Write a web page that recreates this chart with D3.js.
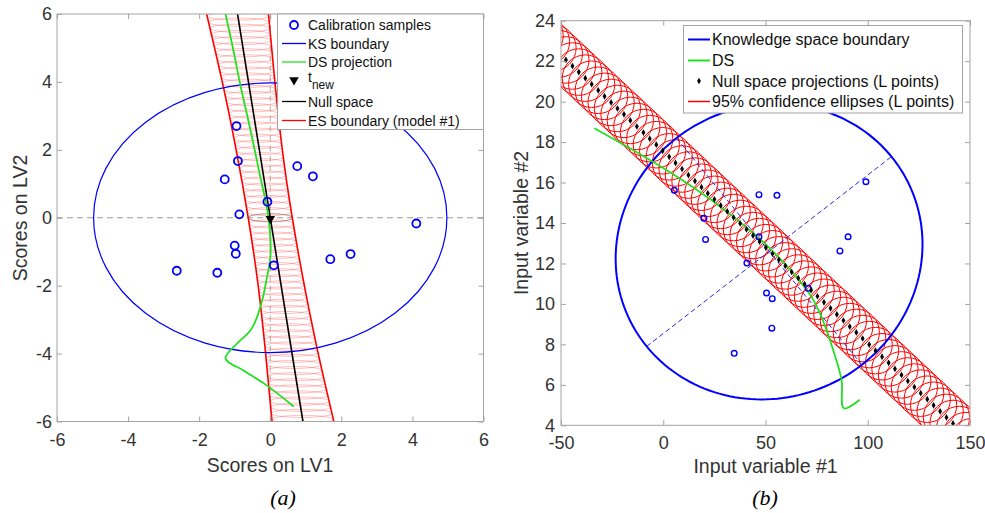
<!DOCTYPE html>
<html><head><meta charset="utf-8">
<script src="https://cdn.jsdelivr.net/npm/d3@7"></script>
<style>
body{margin:0;background:#fff}
svg{display:block}
text{font-family:"Liberation Sans",Arial,sans-serif}
</style>
</head><body>
<svg id="c" width="985" height="513"></svg>
<script>
// ---------------- Panel (a) data ----------------
const aTicks = [-6, -4, -2, 0, 2, 4, 6];
const calX = [-0.95, -0.91, -1.28, 0.76, 1.20, -0.08, -0.87, 4.11, -1.00, -0.97, -2.63, -1.49, 0.10, 1.69, 2.26];
const calY = [2.70, 1.67, 1.13, 1.52, 1.22, 0.47, 0.10, -0.17, -0.82, -1.06, -1.56, -1.62, -1.40, -1.22, -1.07];
const ksA = {cx: 0, cy: 0, rx: 4.97, ry: 3.97};
const dsAX = [-1.26, -1.05, -0.86, -0.56, -0.30, -0.05, 0.00, -0.10, -0.23, -0.56, -0.94, -1.26, -0.75, -0.19, 0.66];
const dsAY = [6.00, 5.00, 4.00, 2.60, 1.30, 0.00, -1.20, -1.80, -2.44, -3.32, -3.71, -4.13, -4.50, -4.87, -5.56];
const tNew = [0, 0];
const nullAX = [-0.92, 0.92];
const nullAY = [6, -6];
const esBoundY = [6, 4, 2, 0, -2, -4, -6];
const esBoundLeft = [-1.79, -1.35, -0.96, -0.62, -0.34, -0.13, 0.05];
const esBoundRight = [-0.05, 0.13, 0.34, 0.62, 0.96, 1.35, 1.79];
const esEllY = [6.30, 6.12, 5.94, 5.76, 5.58, 5.40, 5.22, 5.04, 4.86, 4.68, 4.50, 4.32, 4.14, 3.96, 3.78, 3.60, 3.42, 3.24, 3.06, 2.88, 2.70, 2.52, 2.34, 2.16, 1.98, 1.80, 1.62, 1.44, 1.26, 1.08, 0.90, 0.72, 0.54, 0.36, 0.18, 0.00,
  -0.18, -0.36, -0.54, -0.72, -0.90, -1.08, -1.26, -1.44, -1.62, -1.80, -1.98, -2.16, -2.34, -2.52, -2.70, -2.88, -3.06, -3.24, -3.42, -3.60, -3.78, -3.96, -4.14, -4.32, -4.50, -4.68, -4.86, -5.04, -5.22, -5.40, -5.58, -5.76, -5.94, -6.12, -6.30];

// ---------------- Panel (b) data ----------------
const bXTicks = [-50, 0, 50, 100, 150];
const bYTicks = [4, 6, 8, 10, 12, 14, 16, 18, 20, 22, 24];
const sampX = [5.4, 46.8, 55.6, 99.1, 19.9, 20.7, 46.8, 90.4, 86.4, 40.9, 50.5, 53.3, 53.1, 34.7, 70.9];
const sampY = [15.62, 15.40, 15.37, 16.04, 14.23, 13.19, 13.32, 13.32, 12.62, 12.02, 10.54, 10.26, 8.80, 7.56, 10.77];
const ksAxis1 = [[-8.1, 7.9], [111.6, 17.28]];
const ksAxis2 = [[6.5, 18.2], [97.0, 7.0]];
const dsBX = [-33.7, -6.5, 15.5, 31.8, 51.3, 71.5, 76.6, 83.1, 87.2, 88.3, 96.1];
const dsBY = [18.68, 17.11, 15.70, 14.50, 12.83, 10.50, 9.54, 7.72, 6.24, 4.84, 5.26];
const nsX = [-63.4, -60.2, -57.1, -53.9, -50.8, -47.6, -44.4, -41.3, -38.1, -35.0, -31.8, -28.7, -25.5, -22.4, -19.2, -16.1, -12.9, -9.7, -6.6, -3.4,
  -0.3, 2.9, 6.0, 9.2, 12.3, 15.5, 18.7, 21.8, 25.0, 28.1, 31.3, 34.4, 37.6, 40.7, 43.9, 47.1, 50.2, 53.4, 56.5, 59.7,
  62.8, 66.0, 69.1, 72.3, 75.4, 78.6, 81.8, 84.9, 88.1, 91.2, 94.4, 97.5, 100.7, 103.8, 107.0, 110.2, 113.3, 116.5, 119.6, 122.8,
  125.9, 129.1, 132.2, 135.4, 138.5, 141.7, 144.8, 148.0, 151.2, 154.3];
const nsY = [23.56, 23.26, 22.96, 22.66, 22.36, 22.06, 21.76, 21.46, 21.16, 20.86, 20.56, 20.26, 19.96, 19.66, 19.37, 19.07, 18.77, 18.47, 18.17, 17.87,
  17.57, 17.27, 16.97, 16.67, 16.37, 16.07, 15.77, 15.47, 15.17, 14.87, 14.57, 14.27, 13.98, 13.68, 13.38, 13.08, 12.78, 12.48, 12.18, 11.88,
  11.58, 11.28, 10.98, 10.68, 10.38, 10.08, 9.78, 9.48, 9.18, 8.88, 8.59, 8.29, 7.99, 7.69, 7.39, 7.09, 6.79, 6.49, 6.19, 5.89,
  5.59, 5.29, 4.99, 4.69, 4.39, 4.09, 3.79, 3.49, 3.19, 2.89];
const confRx = 11.3, confRy = 1.15;

// ---------------- drawing helpers ----------------
const svg = d3.select("#c");
const AXC = "#a3a3a3", TXC = "#333";
const BLUE = "#0000ff", GREEN = "#22e022", RED = "#ff0000";

function frame(x, y, xt, yt, padX, padY) {
  const [x0, x1] = x.range(), [y0, y1] = y.range();
  const fmt = d => String(d);
  const g = svg.append("g");
  g.append("g").attr("transform", `translate(0,${y0})`)
    .call(d3.axisBottom(x).tickValues(xt).tickSizeInner(-5).tickSizeOuter(0).tickPadding(padX).tickFormat(fmt));
  g.append("g").attr("transform", `translate(0,${y1})`)
    .call(d3.axisTop(x).tickValues(xt).tickSizeInner(-5).tickSizeOuter(0).tickFormat(""));
  g.append("g").attr("transform", `translate(${x0},0)`)
    .call(d3.axisLeft(y).tickValues(yt).tickSizeInner(-5).tickSizeOuter(0).tickPadding(padY).tickFormat(fmt));
  g.append("g").attr("transform", `translate(${x1},0)`)
    .call(d3.axisRight(y).tickValues(yt).tickSizeInner(-5).tickSizeOuter(0).tickFormat(""));
  g.selectAll(".domain").remove();
  g.selectAll(".tick line").attr("stroke", AXC);
  g.selectAll(".tick text").attr("fill", TXC).style("font-size", "18px")
    .style("font-family", "'Liberation Sans',Arial,sans-serif");
  g.append("rect").attr("x", x0).attr("y", y1).attr("width", x1 - x0).attr("height", y0 - y1)
    .attr("fill", "none").attr("stroke", AXC).attr("stroke-width", 1);
}

function clipped(id, x, y) {
  const [x0, x1] = x.range(), [y0, y1] = y.range();
  svg.append("clipPath").attr("id", id).append("rect")
    .attr("x", x0).attr("y", y1).attr("width", x1 - x0).attr("height", y0 - y1);
  return svg.append("g").attr("clip-path", `url(#${id})`);
}

// ================= Panel (a) =================
const xa = d3.scaleLinear().domain([-6, 6]).range([57, 483.5]);
const ya = d3.scaleLinear().domain([-6, 6]).range([421.5, 14]);
const ga = clipped("clipA", xa, ya);

// grey dashed zero lines
ga.append("line").attr("x1", xa(-6)).attr("x2", xa(6)).attr("y1", ya(0)).attr("y2", ya(0))
  .attr("stroke", "#9a9a9a").attr("stroke-dasharray", "6,4").attr("stroke-width", 1);
ga.append("line").attr("x1", xa(0)).attr("x2", xa(0)).attr("y1", ya(-6)).attr("y2", ya(6))
  .attr("stroke", "#b0b0b0").attr("stroke-dasharray", "6,4").attr("stroke-width", 1);

// ES hatch ellipses
const leftAt = d3.scaleLinear().domain(esBoundY).range(esBoundLeft).clamp(false);
const rightAt = d3.scaleLinear().domain(esBoundY).range(esBoundRight).clamp(false);
const nullAt = d3.scaleLinear().domain(nullAY).range(nullAX);
ga.append("g").selectAll("ellipse").data(esEllY).join("ellipse")
  .attr("cx", d => xa(nullAt(d)))
  .attr("cy", d => ya(d))
  .attr("rx", d => xa((rightAt(d) - leftAt(d)) / 2) - xa(0))
  .attr("ry", ya(0) - ya(0.12))
  .attr("fill", "none").attr("stroke", "#ff5a5a").attr("stroke-opacity", 0.55).attr("stroke-width", 0.7);
// small ellipse at t_new
ga.append("ellipse").attr("cx", xa(tNew[0])).attr("cy", ya(tNew[1]))
  .attr("rx", xa((rightAt(0) - leftAt(0)) / 2) - xa(0)).attr("ry", ya(0) - ya(0.12))
  .attr("fill", "none").attr("stroke", "#555").attr("stroke-opacity", 0.6).attr("stroke-width", 0.7);

// ES boundaries
const esLineL = d3.line().x(d => xa(d[0])).y(d => ya(d[1])).curve(d3.curveNatural);
ga.append("path").attr("d", esLineL(esBoundY.map((v, i) => [esBoundLeft[i], v])))
  .attr("fill", "none").attr("stroke", RED).attr("stroke-width", 1.6);
ga.append("path").attr("d", esLineL(esBoundY.map((v, i) => [esBoundRight[i], v])))
  .attr("fill", "none").attr("stroke", RED).attr("stroke-width", 1.6);

// KS boundary ellipse
ga.append("ellipse").attr("cx", xa(ksA.cx)).attr("cy", ya(ksA.cy))
  .attr("rx", xa(ksA.rx) - xa(0)).attr("ry", ya(0) - ya(ksA.ry))
  .attr("fill", "none").attr("stroke", BLUE).attr("stroke-width", 1.2);

// null space
ga.append("line").attr("x1", xa(nullAX[0])).attr("y1", ya(nullAY[0]))
  .attr("x2", xa(nullAX[1])).attr("y2", ya(nullAY[1]))
  .attr("stroke", "#000").attr("stroke-width", 1.6);

// DS projection
ga.append("path").attr("d", d3.line().x(d => xa(d[0])).y(d => ya(d[1])).curve(d3.curveCatmullRom.alpha(1))(dsAX.map((v, i) => [v, dsAY[i]])))
  .attr("fill", "none").attr("stroke", GREEN).attr("stroke-width", 1.8);

// calibration samples
ga.append("g").selectAll("circle").data(calX.map((v, i) => [v, calY[i]])).join("circle")
  .attr("cx", d => xa(d[0])).attr("cy", d => ya(d[1])).attr("r", 4)
  .attr("fill", "none").attr("stroke", BLUE).attr("stroke-width", 1.8);

// t_new
ga.append("path").attr("d", d3.symbol(d3.symbolTriangle, 40)())
  .attr("transform", `translate(${xa(tNew[0])},${ya(tNew[1]) + 1}) rotate(180)`).attr("fill", "#000");

frame(xa, ya, aTicks, aTicks, 12, 5);

// legend (a)
{
  const lg = svg.append("g");
  lg.append("rect").attr("x", 277.5).attr("y", 14).attr("width", 206).attr("height", 115.5)
    .attr("fill", "#fff").attr("stroke", AXC);
  const rows = [
    {y: 25, t: "Calibration samples", k: "circle"},
    {y: 43.5, t: "KS boundary", k: "line", c: BLUE},
    {y: 62, t: "DS projection", k: "line", c: GREEN},
    {y: 80, t: "t", sub: "new", k: "tri"},
    {y: 101.5, t: "Null space", k: "line", c: "#000"},
    {y: 120.5, t: "ES boundary (model #1)", k: "line", c: RED}
  ];
  rows.forEach(r => {
    if (r.k === "line") lg.append("line").attr("x1", 282).attr("x2", 306).attr("y1", r.y).attr("y2", r.y)
      .attr("stroke", r.c).attr("stroke-width", 1.3);
    if (r.k === "circle") lg.append("circle").attr("cx", 294).attr("cy", r.y).attr("r", 4)
      .attr("fill", "none").attr("stroke", BLUE).attr("stroke-width", 1.8);
    if (r.k === "tri") lg.append("path").attr("d", d3.symbol(d3.symbolTriangle, 40)())
      .attr("transform", `translate(294,${r.y}) rotate(180)`).attr("fill", "#000");
    const t = lg.append("text").attr("x", 308).attr("y", r.k === "tri" ? r.y + 2 : r.y + 5)
      .attr("fill", "#111").style("font-size", "14px").text(r.t);
    if (r.sub) t.append("tspan").attr("dy", 7).style("font-size", "12px").text(r.sub);
  });
}

// axis labels (a)
svg.append("text").attr("x", 270).attr("y", 472).attr("text-anchor", "middle")
  .attr("fill", TXC).style("font-size", "19.5px").text("Scores on LV1");
svg.append("text").attr("transform", "translate(27,218) rotate(-90)").attr("text-anchor", "middle")
  .attr("fill", TXC).style("font-size", "19.5px").text("Scores on LV2");

// ================= Panel (b) =================
const xb = d3.scaleLinear().domain([-50, 150]).range([561, 970]);
const yb = d3.scaleLinear().domain([4, 24]).range([425.3, 20.7]);
const gb = clipped("clipB", xb, yb);

// confidence ellipses band
gb.append("g").selectAll("ellipse").data(nsX.map((v, i) => [v, nsY[i]])).join("ellipse")
  .attr("cx", d => xb(d[0])).attr("cy", d => yb(d[1]))
  .attr("rx", xb(confRx) - xb(0)).attr("ry", yb(0) - yb(confRy))
  .attr("fill", "none").attr("stroke", RED).attr("stroke-width", 1);

// KS boundary (ellipse from principal axes)
const c1 = [(ksAxis1[0][0] + ksAxis1[1][0]) / 2, (ksAxis1[0][1] + ksAxis1[1][1]) / 2];
const h1 = [ksAxis1[1][0] - c1[0], ksAxis1[1][1] - c1[1]];
const h2 = [ksAxis2[0][0] - c1[0], ksAxis2[0][1] - c1[1]];
const ang = d3.range(0, 361, 2).map(a => a * Math.PI / 180);
gb.append("path").attr("d", d3.line().x(t => xb(c1[0] + Math.cos(t) * h1[0] + Math.sin(t) * h2[0]))
  .y(t => yb(c1[1] + Math.cos(t) * h1[1] + Math.sin(t) * h2[1]))(ang))
  .attr("fill", "none").attr("stroke", BLUE).attr("stroke-width", 2);
[ksAxis1, ksAxis2].forEach(a => gb.append("line")
  .attr("x1", xb(a[0][0])).attr("y1", yb(a[0][1])).attr("x2", xb(a[1][0])).attr("y2", yb(a[1][1]))
  .attr("stroke", "#2a2ae0").attr("stroke-width", 1).attr("stroke-dasharray", "5,3"));

// DS
gb.append("path").attr("d", d3.line().x(d => xb(d[0])).y(d => yb(d[1])).curve(d3.curveCatmullRom.alpha(0.5))(dsBX.map((v, i) => [v, dsBY[i]])))
  .attr("fill", "none").attr("stroke", GREEN).attr("stroke-width", 1.8);

// samples
gb.append("g").selectAll("circle").data(sampX.map((v, i) => [v, sampY[i]])).join("circle")
  .attr("cx", d => xb(d[0])).attr("cy", d => yb(d[1])).attr("r", 2.8)
  .attr("fill", "none").attr("stroke", BLUE).attr("stroke-width", 1.4);

// null space projections
gb.append("g").selectAll("path").data(nsX.map((v, i) => [v, nsY[i]])).join("path")
  .attr("d", d3.symbol(d3.symbolDiamond, 13)())
  .attr("transform", d => `translate(${xb(d[0])},${yb(d[1])})`).attr("fill", "#000");

frame(xb, yb, bXTicks, bYTicks, 11, 6);

// legend (b)
{
  const lg = svg.append("g");
  lg.append("rect").attr("x", 683.5).attr("y", 25.5).attr("width", 279).attr("height", 87.5)
    .attr("fill", "#fff").attr("stroke", AXC);
  const rows = [
    {y: 39.5, t: "Knowledge space boundary", k: "line", c: BLUE},
    {y: 60.5, t: "DS", k: "line", c: GREEN},
    {y: 81, t: "Null space projections (L points)", k: "dia"},
    {y: 101.5, t: "95% confidence ellipses (L points)", k: "line", c: RED}
  ];
  rows.forEach(r => {
    if (r.k === "line") lg.append("line").attr("x1", 688).attr("x2", 710).attr("y1", r.y).attr("y2", r.y)
      .attr("stroke", r.c).attr("stroke-width", r.c === RED ? 1.5 : 2);
    if (r.k === "dia") lg.append("path").attr("d", d3.symbol(d3.symbolDiamond, 13)())
      .attr("transform", `translate(699,${r.y})`).attr("fill", "#000");
    lg.append("text").attr("x", 712).attr("y", r.y + 5.7).attr("fill", "#111")
      .style("font-size", "16px").text(r.t);
  });
}

svg.append("text").attr("x", 765.5).attr("y", 473).attr("text-anchor", "middle")
  .attr("fill", TXC).style("font-size", "19.5px").text("Input variable #1");
svg.append("text").attr("transform", "translate(528,223) rotate(-90)").attr("text-anchor", "middle")
  .attr("fill", TXC).style("font-size", "19.5px").text("Input variable #2");

// captions
[["(a)", 283], ["(b)", 765]].forEach(([t, x]) => svg.append("text").attr("x", x).attr("y", 505)
  .attr("text-anchor", "middle").attr("fill", "#000")
  .style("font-family", "'Liberation Serif','Times New Roman',serif").style("font-style", "italic")
  .style("font-size", "22px").text(t));
</script>
</body></html>
